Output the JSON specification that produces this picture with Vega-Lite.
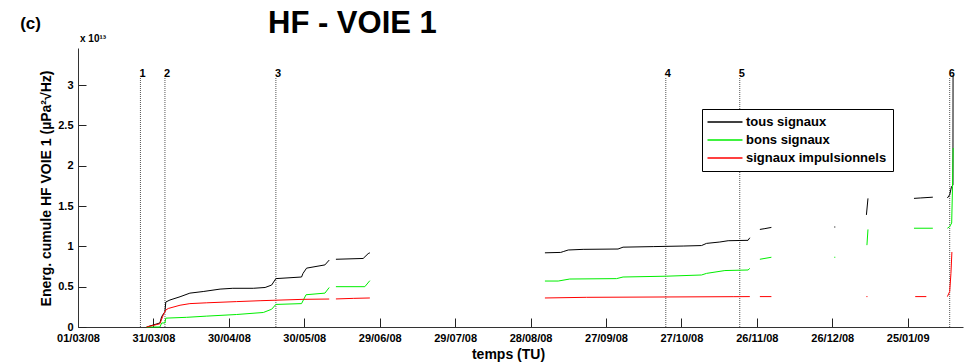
{
  "$schema": "https://vega.github.io/schema/vega-lite/v6.json",
  "width": 885,
  "height": 279,
  "autosize": "none",
  "padding": {"left": 78, "top": 48, "right": 2, "bottom": 36},
  "background": "white",
  "config": {"view": {"stroke": null}, "font": "Liberation Sans"},
  "title": {"text": "HF - VOIE 1", "anchor": "start", "frame": "group", "dx": 190, "dy": 37, "offset": 12, "fontSize": 31, "fontWeight": "bold", "font": "Liberation Sans", "color": "black"},
  "datasets": {
    "curves": [
      {"t": "2008-03-28T07:00:00", "v": 0, "s": "tous signaux", "g": "a"},
      {"t": "2008-04-02T14:00:00", "v": 0.05, "s": "tous signaux", "g": "a"},
      {"t": "2008-04-03T07:00:00", "v": 0.13, "s": "tous signaux", "g": "a"},
      {"t": "2008-04-04T14:00:00", "v": 0.19, "s": "tous signaux", "g": "a"},
      {"t": "2008-04-04T22:00:00", "v": 0.31, "s": "tous signaux", "g": "a"},
      {"t": "2008-04-06T14:00:00", "v": 0.335, "s": "tous signaux", "g": "a"},
      {"t": "2008-04-10T14:00:00", "v": 0.375, "s": "tous signaux", "g": "a"},
      {"t": "2008-04-14T12:00:00", "v": 0.42, "s": "tous signaux", "g": "a"},
      {"t": "2008-04-19T19:00:00", "v": 0.44, "s": "tous signaux", "g": "a"},
      {"t": "2008-04-26T12:00:00", "v": 0.47, "s": "tous signaux", "g": "a"},
      {"t": "2008-05-01T14:00:00", "v": 0.48, "s": "tous signaux", "g": "a"},
      {"t": "2008-05-09T17:00:00", "v": 0.48, "s": "tous signaux", "g": "a"},
      {"t": "2008-05-14T10:00:00", "v": 0.49, "s": "tous signaux", "g": "a"},
      {"t": "2008-05-17T00:00:00", "v": 0.52, "s": "tous signaux", "g": "a"},
      {"t": "2008-05-18T17:00:00", "v": 0.6, "s": "tous signaux", "g": "a"},
      {"t": "2008-05-28T22:00:00", "v": 0.62, "s": "tous signaux", "g": "a"},
      {"t": "2008-05-29T12:00:00", "v": 0.665, "s": "tous signaux", "g": "a"},
      {"t": "2008-05-30T22:00:00", "v": 0.73, "s": "tous signaux", "g": "a"},
      {"t": "2008-06-07T05:00:00", "v": 0.77, "s": "tous signaux", "g": "a"},
      {"t": "2008-06-08T22:00:00", "v": 0.83, "s": "tous signaux", "g": "a"},
      {"t": "2008-06-11T14:00:00", "v": 0.84, "s": "tous signaux", "g": "b"},
      {"t": "2008-06-22T10:00:00", "v": 0.85, "s": "tous signaux", "g": "b"},
      {"t": "2008-06-24T10:00:00", "v": 0.91, "s": "tous signaux", "g": "b"},
      {"t": "2008-06-25T02:00:00", "v": 0.92, "s": "tous signaux", "g": "b"},
      {"t": "2008-09-02T17:00:00", "v": 0.92, "s": "tous signaux", "g": "c"},
      {"t": "2008-09-09T00:00:00", "v": 0.925, "s": "tous signaux", "g": "c"},
      {"t": "2008-09-10T00:00:00", "v": 0.935, "s": "tous signaux", "g": "c"},
      {"t": "2008-09-12T00:00:00", "v": 0.955, "s": "tous signaux", "g": "c"},
      {"t": "2008-09-17T22:00:00", "v": 0.963, "s": "tous signaux", "g": "c"},
      {"t": "2008-10-01T19:00:00", "v": 0.967, "s": "tous signaux", "g": "c"},
      {"t": "2008-10-03T19:00:00", "v": 0.99, "s": "tous signaux", "g": "c"},
      {"t": "2008-10-15T19:00:00", "v": 0.997, "s": "tous signaux", "g": "c"},
      {"t": "2008-10-27T17:00:00", "v": 1.004, "s": "tous signaux", "g": "c"},
      {"t": "2008-11-04T00:00:00", "v": 1.01, "s": "tous signaux", "g": "c"},
      {"t": "2008-11-06T00:00:00", "v": 1.037, "s": "tous signaux", "g": "c"},
      {"t": "2008-11-11T07:00:00", "v": 1.054, "s": "tous signaux", "g": "c"},
      {"t": "2008-11-14T14:00:00", "v": 1.07, "s": "tous signaux", "g": "c"},
      {"t": "2008-11-22T12:00:00", "v": 1.075, "s": "tous signaux", "g": "c"},
      {"t": "2008-11-23T05:00:00", "v": 1.107, "s": "tous signaux", "g": "c"},
      {"t": "2008-11-27T05:00:00", "v": 1.21, "s": "tous signaux", "g": "d"},
      {"t": "2008-11-29T05:00:00", "v": 1.22, "s": "tous signaux", "g": "d"},
      {"t": "2008-12-01T19:00:00", "v": 1.235, "s": "tous signaux", "g": "d"},
      {"t": "2008-12-26T19:00:00", "v": 1.24, "s": "tous signaux", "g": "e"},
      {"t": "2008-12-27T05:00:00", "v": 1.24, "s": "tous signaux", "g": "e"},
      {"t": "2009-01-08T14:00:00", "v": 1.39, "s": "tous signaux", "g": "f"},
      {"t": "2009-01-09T05:00:00", "v": 1.595, "s": "tous signaux", "g": "f"},
      {"t": "2009-01-27T12:00:00", "v": 1.595, "s": "tous signaux", "g": "g"},
      {"t": "2009-01-30T00:00:00", "v": 1.6, "s": "tous signaux", "g": "g"},
      {"t": "2009-02-04T00:00:00", "v": 1.61, "s": "tous signaux", "g": "g"},
      {"t": "2009-02-09T19:00:00", "v": 1.6, "s": "tous signaux", "g": "h"},
      {"t": "2009-02-10T17:00:00", "v": 1.64, "s": "tous signaux", "g": "h"},
      {"t": "2009-02-11T10:00:00", "v": 1.74, "s": "tous signaux", "g": "h"},
      {"t": "2009-02-12T00:00:00", "v": 1.76, "s": "tous signaux", "g": "h"},
      {"t": "2009-02-12T01:00:00", "v": 3.12, "s": "tous signaux", "g": "h"},

      {"t": "2008-03-28T07:00:00", "v": 0, "s": "bons signaux", "g": "a"},
      {"t": "2008-04-02T14:00:00", "v": 0, "s": "bons signaux", "g": "a"},
      {"t": "2008-04-03T07:00:00", "v": 0.05, "s": "bons signaux", "g": "a"},
      {"t": "2008-04-04T14:00:00", "v": 0.05, "s": "bons signaux", "g": "a"},
      {"t": "2008-04-04T22:00:00", "v": 0.11, "s": "bons signaux", "g": "a"},
      {"t": "2008-04-13T05:00:00", "v": 0.12, "s": "bons signaux", "g": "a"},
      {"t": "2008-04-21T05:00:00", "v": 0.135, "s": "bons signaux", "g": "a"},
      {"t": "2008-05-03T02:00:00", "v": 0.155, "s": "bons signaux", "g": "a"},
      {"t": "2008-05-13T17:00:00", "v": 0.18, "s": "bons signaux", "g": "a"},
      {"t": "2008-05-17T00:00:00", "v": 0.22, "s": "bons signaux", "g": "a"},
      {"t": "2008-05-18T17:00:00", "v": 0.28, "s": "bons signaux", "g": "a"},
      {"t": "2008-05-28T22:00:00", "v": 0.29, "s": "bons signaux", "g": "a"},
      {"t": "2008-05-30T17:00:00", "v": 0.4, "s": "bons signaux", "g": "a"},
      {"t": "2008-06-07T05:00:00", "v": 0.42, "s": "bons signaux", "g": "a"},
      {"t": "2008-06-08T22:00:00", "v": 0.49, "s": "bons signaux", "g": "a"},
      {"t": "2008-06-11T14:00:00", "v": 0.5, "s": "bons signaux", "g": "b"},
      {"t": "2008-06-23T02:00:00", "v": 0.5, "s": "bons signaux", "g": "b"},
      {"t": "2008-06-25T02:00:00", "v": 0.575, "s": "bons signaux", "g": "b"},
      {"t": "2008-09-02T17:00:00", "v": 0.57, "s": "bons signaux", "g": "c"},
      {"t": "2008-09-08T00:00:00", "v": 0.57, "s": "bons signaux", "g": "c"},
      {"t": "2008-09-12T14:00:00", "v": 0.595, "s": "bons signaux", "g": "c"},
      {"t": "2008-10-01T05:00:00", "v": 0.6, "s": "bons signaux", "g": "c"},
      {"t": "2008-10-03T19:00:00", "v": 0.62, "s": "bons signaux", "g": "c"},
      {"t": "2008-10-21T00:00:00", "v": 0.63, "s": "bons signaux", "g": "c"},
      {"t": "2008-11-04T00:00:00", "v": 0.645, "s": "bons signaux", "g": "c"},
      {"t": "2008-11-06T00:00:00", "v": 0.665, "s": "bons signaux", "g": "c"},
      {"t": "2008-11-13T07:00:00", "v": 0.7, "s": "bons signaux", "g": "c"},
      {"t": "2008-11-22T12:00:00", "v": 0.707, "s": "bons signaux", "g": "c"},
      {"t": "2008-11-23T05:00:00", "v": 0.727, "s": "bons signaux", "g": "c"},
      {"t": "2008-11-27T05:00:00", "v": 0.84, "s": "bons signaux", "g": "d"},
      {"t": "2008-12-01T19:00:00", "v": 0.865, "s": "bons signaux", "g": "d"},
      {"t": "2008-12-26T19:00:00", "v": 0.865, "s": "bons signaux", "g": "e"},
      {"t": "2008-12-27T05:00:00", "v": 0.865, "s": "bons signaux", "g": "e"},
      {"t": "2009-01-08T19:00:00", "v": 1.015, "s": "bons signaux", "g": "f"},
      {"t": "2009-01-09T05:00:00", "v": 1.21, "s": "bons signaux", "g": "f"},
      {"t": "2009-01-27T12:00:00", "v": 1.225, "s": "bons signaux", "g": "g"},
      {"t": "2009-02-04T00:00:00", "v": 1.225, "s": "bons signaux", "g": "g"},
      {"t": "2009-02-09T19:00:00", "v": 1.225, "s": "bons signaux", "g": "h"},
      {"t": "2009-02-10T17:00:00", "v": 1.245, "s": "bons signaux", "g": "h"},
      {"t": "2009-02-11T12:00:00", "v": 1.29, "s": "bons signaux", "g": "h"},
      {"t": "2009-02-11T20:00:00", "v": 1.74, "s": "bons signaux", "g": "h"},
      {"t": "2009-02-12T02:00:00", "v": 2.22, "s": "bons signaux", "g": "h"},

      {"t": "2008-03-28T07:00:00", "v": 0, "s": "signaux impulsionnels", "g": "a"},
      {"t": "2008-04-02T14:00:00", "v": 0.04, "s": "signaux impulsionnels", "g": "a"},
      {"t": "2008-04-03T22:00:00", "v": 0.15, "s": "signaux impulsionnels", "g": "a"},
      {"t": "2008-04-04T22:00:00", "v": 0.21, "s": "signaux impulsionnels", "g": "a"},
      {"t": "2008-04-05T22:00:00", "v": 0.23, "s": "signaux impulsionnels", "g": "a"},
      {"t": "2008-04-10T14:00:00", "v": 0.27, "s": "signaux impulsionnels", "g": "a"},
      {"t": "2008-04-14T12:00:00", "v": 0.29, "s": "signaux impulsionnels", "g": "a"},
      {"t": "2008-04-21T05:00:00", "v": 0.3, "s": "signaux impulsionnels", "g": "a"},
      {"t": "2008-05-03T02:00:00", "v": 0.315, "s": "signaux impulsionnels", "g": "a"},
      {"t": "2008-05-12T10:00:00", "v": 0.326, "s": "signaux impulsionnels", "g": "a"},
      {"t": "2008-05-29T14:00:00", "v": 0.343, "s": "signaux impulsionnels", "g": "a"},
      {"t": "2008-06-08T22:00:00", "v": 0.347, "s": "signaux impulsionnels", "g": "a"},
      {"t": "2008-06-11T14:00:00", "v": 0.348, "s": "signaux impulsionnels", "g": "b"},
      {"t": "2008-06-18T12:00:00", "v": 0.355, "s": "signaux impulsionnels", "g": "b"},
      {"t": "2008-06-25T02:00:00", "v": 0.36, "s": "signaux impulsionnels", "g": "b"},
      {"t": "2008-09-02T17:00:00", "v": 0.36, "s": "signaux impulsionnels", "g": "c"},
      {"t": "2008-09-19T05:00:00", "v": 0.368, "s": "signaux impulsionnels", "g": "c"},
      {"t": "2008-11-16T14:00:00", "v": 0.376, "s": "signaux impulsionnels", "g": "c"},
      {"t": "2008-11-23T05:00:00", "v": 0.377, "s": "signaux impulsionnels", "g": "c"},
      {"t": "2008-11-27T05:00:00", "v": 0.377, "s": "signaux impulsionnels", "g": "d"},
      {"t": "2008-12-01T19:00:00", "v": 0.377, "s": "signaux impulsionnels", "g": "d"},
      {"t": "2009-01-08T14:00:00", "v": 0.377, "s": "signaux impulsionnels", "g": "f"},
      {"t": "2009-01-09T00:00:00", "v": 0.377, "s": "signaux impulsionnels", "g": "f"},
      {"t": "2009-01-28T00:00:00", "v": 0.377, "s": "signaux impulsionnels", "g": "g"},
      {"t": "2009-02-01T10:00:00", "v": 0.377, "s": "signaux impulsionnels", "g": "g"},
      {"t": "2009-02-09T19:00:00", "v": 0.377, "s": "signaux impulsionnels", "g": "h"},
      {"t": "2009-02-10T17:00:00", "v": 0.44, "s": "signaux impulsionnels", "g": "h"},
      {"t": "2009-02-11T05:00:00", "v": 0.665, "s": "signaux impulsionnels", "g": "h"},
      {"t": "2009-02-11T14:00:00", "v": 0.93, "s": "signaux impulsionnels", "g": "h"}
    ],
    "events": [
      {"t": "2008-03-25T20:00:00", "n": "1"},
      {"t": "2008-04-04T14:00:00", "n": "2"},
      {"t": "2008-05-18T17:00:00", "n": "3"},
      {"t": "2008-10-20T19:00:00", "n": "4"},
      {"t": "2008-11-19T05:00:00", "n": "5"},
      {"t": "2009-02-10T17:00:00", "n": "6"}
    ],
    "notes": [
      {"label": "x 10¹³"}
    ],
    "panel": [
      {"label": "(c)"}
    ]
  },
  "layer": [
    {
      "data": {"name": "events"},
      "mark": {"type": "rule", "strokeDash": [1, 1], "color": "#555555", "strokeWidth": 1},
      "encoding": {
        "x": {"field": "t", "type": "temporal", "scale": {"domain": [{"year": 2008, "month": 3, "date": 1}, {"year": 2009, "month": 2, "date": 16}], "nice": false}},
        "y": {"datum": 0, "type": "quantitative"},
        "y2": {"datum": 3.1}
      }
    },
    {
      "data": {"name": "curves"},
      "mark": {"type": "line", "strokeWidth": 1},
      "encoding": {
        "x": {
          "field": "t",
          "type": "temporal",
          "scale": {"domain": [{"year": 2008, "month": 3, "date": 1}, {"year": 2009, "month": 2, "date": 16}], "nice": false},
          "axis": {
            "values": [
              {"year": 2008, "month": 3, "date": 1},
              {"year": 2008, "month": 3, "date": 31},
              {"year": 2008, "month": 4, "date": 30},
              {"year": 2008, "month": 5, "date": 30},
              {"year": 2008, "month": 6, "date": 29},
              {"year": 2008, "month": 7, "date": 29},
              {"year": 2008, "month": 8, "date": 28},
              {"year": 2008, "month": 9, "date": 27},
              {"year": 2008, "month": 10, "date": 27},
              {"year": 2008, "month": 11, "date": 26},
              {"year": 2008, "month": 12, "date": 26},
              {"year": 2009, "month": 1, "date": 25}
            ],
            "format": "%d/%m/%y",
            "grid": false,
            "tickSize": -9,
            "tickColor": "#222222",
            "domainColor": "#333333",
            "labelFont": "Liberation Sans",
            "labelFontSize": 11,
            "labelFontWeight": "bold",
            "labelColor": "black",
            "labelFlush": false,
            "labelOverlap": false,
            "labelPadding": 14,
            "title": "temps (TU)",
            "titleFont": "Liberation Sans",
            "titleFontSize": 14,
            "titleFontWeight": "bold",
            "titleColor": "black",
            "titleX": 430,
            "titleY": 31,
            "titleAlign": "center",
            "titleBaseline": "alphabetic"
          }
        },
        "y": {
          "field": "v",
          "type": "quantitative",
          "scale": {"domain": [0, 3.46], "nice": false, "zero": true},
          "axis": {
            "values": [0, 0.5, 1, 1.5, 2, 2.5, 3],
            "format": "~g",
            "grid": false,
            "tickSize": -8,
            "tickColor": "#222222",
            "domainColor": "#333333",
            "labelFont": "Liberation Sans",
            "labelFontSize": 11,
            "labelFontWeight": "bold",
            "labelColor": "black",
            "labelFlush": false,
            "labelPadding": 13,
            "title": "Energ. cumule HF VOIE 1 (µPa²√Hz)",
            "titleFont": "Liberation Sans",
            "titleFontSize": 14,
            "titleFontWeight": "bold",
            "titleColor": "black",
            "titleX": -28,
            "titleY": 140,
            "titleAngle": -90,
            "titleAlign": "center",
            "titleBaseline": "alphabetic"
          }
        },
        "color": {
          "field": "s",
          "type": "nominal",
          "scale": {"domain": ["tous signaux", "bons signaux", "signaux impulsionnels"], "range": ["#000000", "#00ee00", "#ff0000"]},
          "legend": {
            "orient": "none",
            "legendX": 624,
            "legendY": 61,
            "title": null,
            "strokeColor": "black",
            "fillColor": "white",
            "padding": 6,
            "symbolType": "M-3,0H3",
            "symbolSize": 136,
            "symbolStrokeWidth": 1.5,
            "symbolOffset": 10,
            "labelOffset": 14,
            "labelFont": "Liberation Sans",
            "labelFontSize": 13,
            "labelFontWeight": "bold",
            "labelColor": "black",
            "labelLimit": 300,
            "rowPadding": 4
          }
        },
        "detail": {"field": "g", "type": "nominal"}
      }
    },
    {
      "data": {"name": "events"},
      "mark": {"type": "text", "align": "left", "baseline": "alphabetic", "dx": -1, "fontSize": 11, "fontWeight": "bold", "font": "Liberation Sans", "color": "black"},
      "encoding": {
        "x": {"field": "t", "type": "temporal", "scale": {"domain": [{"year": 2008, "month": 3, "date": 1}, {"year": 2009, "month": 2, "date": 16}], "nice": false}},
        "y": {"datum": 3.1, "type": "quantitative"},
        "text": {"field": "n", "type": "nominal"}
      }
    },
    {
      "data": {"name": "notes"},
      "mark": {"type": "text", "align": "left", "baseline": "alphabetic", "fontSize": 10, "fontWeight": "bold", "font": "Liberation Sans", "color": "black", "clip": false},
      "encoding": {
        "x": {"datum": {"year": 2008, "month": 3, "date": 1, "hours": 19}, "type": "temporal"},
        "y": {"datum": 3.535, "type": "quantitative"},
        "text": {"field": "label", "type": "nominal"}
      }
    },
    {
      "data": {"name": "panel"},
      "mark": {"type": "text", "align": "left", "baseline": "alphabetic", "fontSize": 17, "fontWeight": "bold", "font": "Liberation Sans", "color": "black", "clip": false},
      "encoding": {
        "x": {"datum": {"year": 2008, "month": 2, "date": 7}, "type": "temporal"},
        "y": {"datum": 3.7, "type": "quantitative"},
        "text": {"field": "label", "type": "nominal"}
      }
    }
  ]
}
